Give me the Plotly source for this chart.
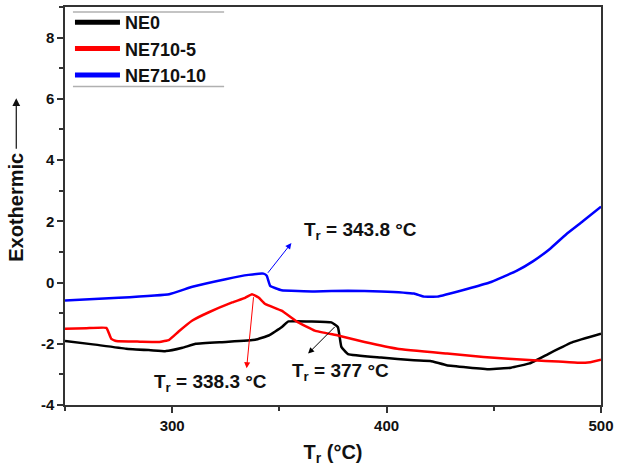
import plotly.graph_objects as go

# ---- data ----
ne0_x = [250, 263, 278.5, 290, 297, 304.8, 311, 325, 338.7, 345, 351, 354.2, 365, 374.2, 377.3, 378.9, 382,
         397.4, 412.8, 420.4, 428, 448, 458, 466.7, 476, 487, 500]
ne0_y = [-1.91, -2.02, -2.16, -2.21, -2.24, -2.13, -2.0, -1.94, -1.87, -1.73, -1.46, -1.27, -1.27, -1.3, -1.46,
         -2.1, -2.34, -2.45, -2.54, -2.56, -2.7, -2.83, -2.78, -2.64, -2.31, -1.94, -1.67]

ne5_x = [250, 260, 269.3, 271.6, 273.9, 285, 294, 298.6, 303, 309.4, 317.1, 328, 334, 337.2, 340.3, 343.4,
         351, 358.8, 366.5, 377.3, 389.7, 405, 428.2, 445.2, 468.4, 480, 489.8, 495, 500]
ne5_y = [-1.51, -1.49, -1.48, -1.84, -1.91, -1.93, -1.94, -1.87, -1.6, -1.24, -0.97, -0.65, -0.5, -0.38, -0.49,
         -0.7, -0.92, -1.3, -1.57, -1.73, -1.94, -2.16, -2.32, -2.43, -2.54, -2.58, -2.62, -2.6, -2.52]

ne10_x = [250, 275, 298.6, 309.4, 324.9, 335.6, 342.6, 344.1, 345.7, 351, 366.5, 382, 397.4, 412.8, 417.4,
          423.6, 437.5, 448, 460.6, 468.4, 476, 483.8, 491.5, 500]
ne10_y = [-0.59, -0.5, -0.38, -0.14, 0.11, 0.25, 0.29, 0.22, -0.11, -0.25, -0.29, -0.27, -0.29, -0.36, -0.46,
          -0.46, -0.21, 0.0, 0.38, 0.70, 1.09, 1.58, 2.0, 2.48]

series_names = ["NE0", "NE710-5", "NE710-10"]
series_colors = ["#000000", "#ff0000", "#0000ff"]

x_ticks = [300, 400, 500]
y_ticks = [-4, -2, 0, 2, 4, 6, 8]

# annotations: (label, text_x, text_y, arrow_from_x, arrow_from_y, arrow_to_x, arrow_to_y, color)
notes = [
    ("T<sub>r</sub> = 343.8 °C", 388, 1.68, 344.1, 0.27, 355.6, 1.29, "#0000ff"),
    ("T<sub>r</sub> = 338.3 °C", 318, -3.29, 338.0, -0.43, 334.7, -2.8, "#ff0000"),
    ("T<sub>r</sub> = 377 °C", 378.7, -2.93, 376.5, -1.4, 363.4, -2.32, "#000000"),
]

font_family = "Liberation Sans, Arial, sans-serif"
ML, MR, MT, MB = 65, 14, 4, 70
W, H = 618, 475
plot_w = W - ML - MR
plot_h = H - MT - MB


def px_x(px):
    return (px - ML) / plot_w


def px_y(py):
    return 1 - (py - MT) / plot_h


fig = go.Figure()
for xs, ys, nm, col in zip([ne0_x, ne5_x, ne10_x], [ne0_y, ne5_y, ne10_y], series_names, series_colors):
    fig.add_trace(go.Scatter(x=xs, y=ys, mode="lines", name="<b>" + nm + "</b>",
                             line=dict(color=col, width=2.5, shape="spline", smoothing=0.3)))

for txt, tx, ty, fx, fy, ex, ey, col in notes:
    fig.add_annotation(x=ex, y=ey, ax=fx, ay=fy, xref="x", yref="y", axref="x", ayref="y",
                       text="", showarrow=True, arrowhead=2, arrowsize=1.2, arrowwidth=1, arrowcolor=col)
    fig.add_annotation(x=tx, y=ty, xref="x", yref="y", text="<b>" + txt + "</b>", showarrow=False,
                       font=dict(family=font_family, size=19, color="#111111"))

# y-axis title text and arrow
fig.add_annotation(x=px_x(16), y=px_y(206), xref="paper", yref="paper", text="<b>Exothermic</b>",
                   showarrow=False, textangle=-90, xanchor="center", yanchor="middle",
                   font=dict(family=font_family, size=20, color="#111111"))
fig.add_annotation(x=px_x(16), y=px_y(96), ax=0, ay=52, xref="paper", yref="paper",
                   axref="pixel", ayref="pixel", text="", showarrow=True, arrowhead=2, arrowsize=1.3,
                   arrowwidth=1.2, arrowcolor="#111111")

axis_common = dict(showline=True, linecolor="#333333", linewidth=1.5, mirror=True, ticks="outside",
                   ticklen=6, tickwidth=1.5, tickcolor="#333333", showgrid=False, zeroline=False,
                   tickfont=dict(family=font_family, size=15, color="#111111"))

fig.update_xaxes(range=[250, 500], tickvals=x_ticks, ticktext=["<b>%d</b>" % v for v in x_ticks],
                 title=dict(text="<b>T<sub>r</sub> (°C)</b>", font=dict(family=font_family, size=20, color="#111111"),
                            standoff=12),
                 minor=dict(ticks="outside", ticklen=4, tickwidth=1.5, tickcolor="#333333", showgrid=False,
                            dtick=50, tick0=250),
                 **axis_common)
fig.update_yaxes(range=[-4, 9], tickvals=y_ticks, ticktext=["<b>%d</b>" % v for v in y_ticks],
                 minor=dict(ticks="outside", ticklen=4, tickwidth=1.5, tickcolor="#333333", showgrid=False,
                            dtick=1, tick0=0),
                 **axis_common)

fig.update_layout(
    width=W, height=H,
    margin=dict(l=ML, r=MR, t=MT, b=MB),
    paper_bgcolor="white", plot_bgcolor="white",
    showlegend=True,
    legend=dict(x=px_x(70), y=px_y(1), xanchor="left", yanchor="top", bgcolor="rgba(255,255,255,0)",
                font=dict(family=font_family, size=18, color="#111111"), itemwidth=45,
                tracegroupgap=0, itemsizing="constant"),
)

# gray rules above/below legend
for py in [9, 84]:
    fig.add_shape(type="line", xref="paper", yref="paper", x0=px_x(73), x1=px_x(225),
                  y0=px_y(py), y1=px_y(py), line=dict(color="#b0b0b0", width=1.5))

fig.write_html("out.html")
